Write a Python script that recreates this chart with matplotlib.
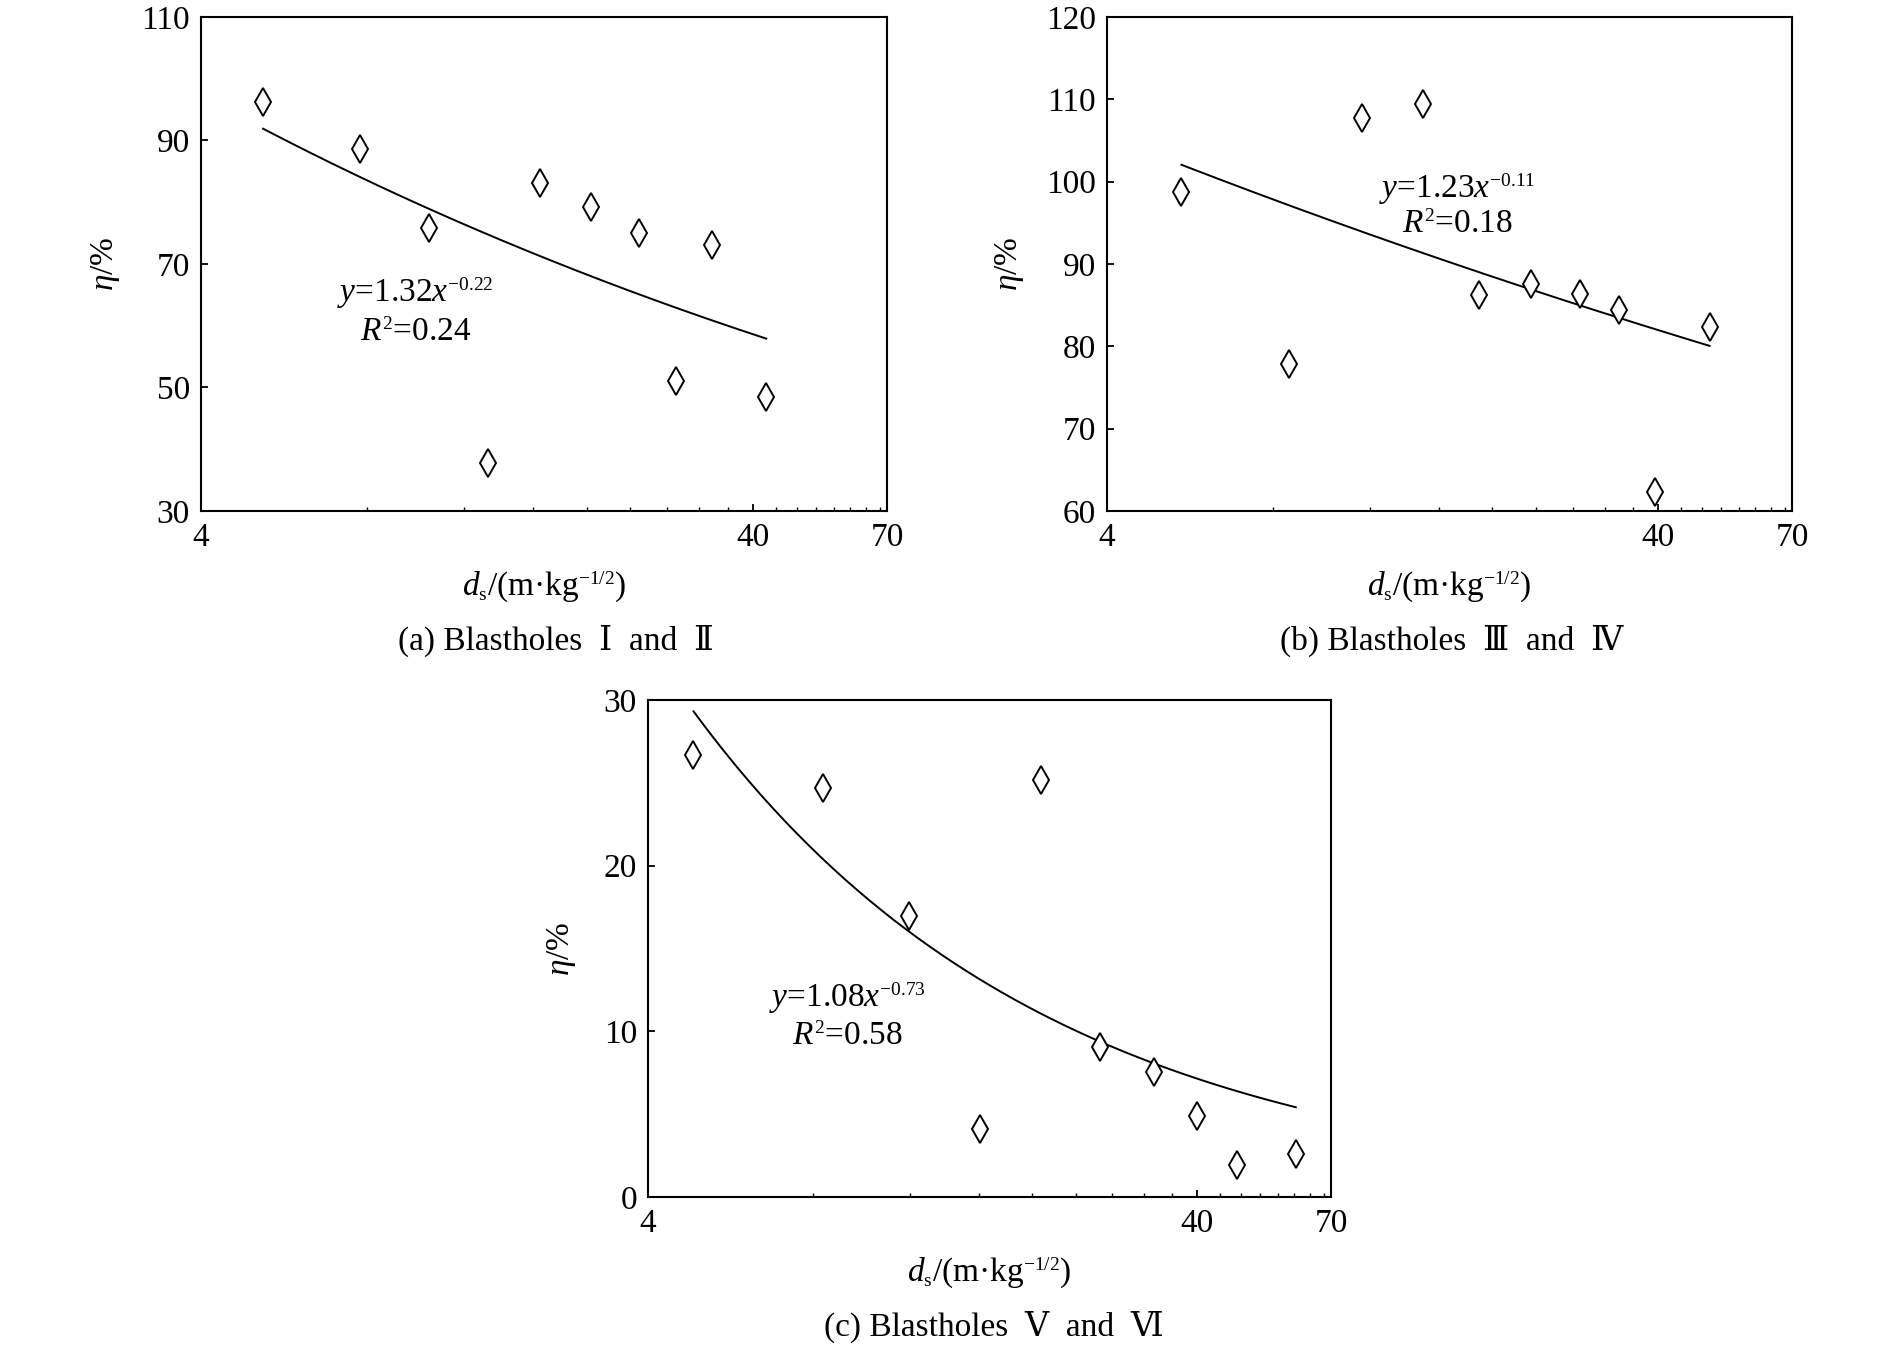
import numpy as np
import matplotlib
matplotlib.use("Agg")
import matplotlib.pyplot as plt
from matplotlib.ticker import FixedLocator, FixedFormatter, NullFormatter
try:
    import matplotlib._mathtext as _mt
    _mt.SHRINK_FACTOR = 0.58
except Exception:
    pass

plt.rcParams['font.family'] = ['Liberation Serif', 'DejaVu Serif', 'Noto Sans CJK SC']
plt.rcParams['mathtext.fontset'] = 'custom'
plt.rcParams['mathtext.rm'] = 'Liberation Serif'
plt.rcParams['mathtext.it'] = 'Liberation Serif:italic'
plt.rcParams['mathtext.bf'] = 'Liberation Serif:bold'

# ---------------- data ----------------
xa = [5.18, 7.77, 10.36, 13.23, 16.43, 20.39, 24.87, 28.98, 33.76, 42.3]
ya = [96.3, 88.7, 75.8, 37.8, 83.1, 79.3, 75.1, 51.0, 73.0, 48.5]

xb = [5.46, 8.54, 11.62, 15.01, 18.91, 23.55, 28.88, 33.91, 39.47, 49.6]
yb = [98.7, 77.9, 107.7, 109.4, 86.2, 87.6, 86.4, 84.4, 62.3, 82.4]

xc = [4.84, 8.34, 11.95, 16.05, 20.74, 26.55, 33.4, 39.9, 47.2, 60.4]
yc = [26.7, 24.66, 16.97, 4.08, 25.2, 9.03, 7.53, 4.9, 1.96, 2.58]

# fitted power curves y = a * x**b (in %), drawn between x_start and x_end
fit_a = (132.0, 123.0, 84.2)
fit_b = (-0.22, -0.11, -0.669)
fit_range = ((5.18, 42.3), (5.46, 49.6), (4.84, 60.4))

eq_texts = (r"$y$=1.32$x^{-0.22}$", r"$y$=1.23$x^{-0.11}$", r"$y$=1.08$x^{-0.73}$")
r2_texts = (r"$R^2$=0.24", r"$R^2$=0.18", r"$R^2$=0.58")
captions = ("(a) Blastholes  Ⅰ  and  Ⅱ", "(b) Blastholes  Ⅲ  and  Ⅳ", "(c) Blastholes  Ⅴ  and  Ⅵ")

ylims = ((30, 110), (60, 120), (0, 30))
yticks = ([30, 50, 70, 90, 110], [60, 70, 80, 90, 100, 110, 120], [0, 10, 20, 30])
xlim = (4, 70)
xticks_major = [4, 40, 70]
xticks_minor = [8, 12, 16, 20, 24, 28, 32, 36, 44, 48, 52, 56, 60, 64, 68]

# ---------------- layout (pixels of a 1890x1350 canvas) ----------------
W, H = 1890, 1350
boxes = ((201, 17, 887, 511), (1107, 17, 1792, 511), (648, 700, 1331, 1197))
eq_pos = ((415, 293), (1457, 189), (847, 998))
r2_pos = ((416, 333), (1457, 225), (847, 1037))
ylab_off = (95, 97, 86)
cap_dx = (12, 2, 4)

fig = plt.figure(figsize=(W / 100, H / 100), dpi=100)
FS = 24

xs_all = (xa, xb, xc)
ys_all = (ya, yb, yc)
for i in range(3):
    l, t, r, b = boxes[i]
    ax = fig.add_axes([l / W, 1 - b / H, (r - l) / W, (b - t) / H])
    ax.set_xscale('log')
    ax.set_xlim(*xlim)
    ax.set_ylim(*ylims[i])
    ax.plot(xs_all[i], ys_all[i], linestyle='none', marker='d', ms=14,
            mfc='white', mec='black', mew=1.4, zorder=3)
    x0, x1 = fit_range[i]
    xf = np.geomspace(x0, x1, 200)
    ax.plot(xf, fit_a[i] * xf ** fit_b[i], color='black', lw=1.4, zorder=2)

    ax.xaxis.set_major_locator(FixedLocator(xticks_major))
    ax.xaxis.set_major_formatter(FixedFormatter([str(v) for v in xticks_major]))
    ax.xaxis.set_minor_locator(FixedLocator(xticks_minor))
    ax.xaxis.set_minor_formatter(NullFormatter())
    ax.set_yticks(yticks[i])
    ax.tick_params(axis='both', which='major', direction='in', length=5, width=1.3,
                   labelsize=FS, pad=8, top=False, right=False)
    ax.tick_params(axis='x', which='minor', direction='in', length=3, width=1.0,
                   top=False)
    ax.tick_params(axis='y', which='minor', left=False, right=False)
    for sp in ax.spines.values():
        sp.set_linewidth(1.5)

    cx = (l + r) / 2
    fig.text(cx / W, 1 - (b + 76) / H, r"$d_{\mathrm{s}}$/(m·kg$^{-1/2}$)",
             ha='center', va='center', fontsize=FS)
    fig.text((cx + cap_dx[i]) / W, 1 - (b + 130) / H, captions[i], ha='center',
             va='center', fontsize=FS)
    fig.text((l - ylab_off[i]) / W, 1 - ((t + b) / 2) / H, r"$\eta$/%",
             ha='center', va='center', rotation=90, fontsize=FS)
    fig.text(eq_pos[i][0] / W, 1 - eq_pos[i][1] / H, eq_texts[i],
             ha='center', va='center', fontsize=FS)
    fig.text(r2_pos[i][0] / W, 1 - r2_pos[i][1] / H, r2_texts[i],
             ha='center', va='center', fontsize=FS)

fig.savefig('out.png', dpi=100, facecolor='white')
